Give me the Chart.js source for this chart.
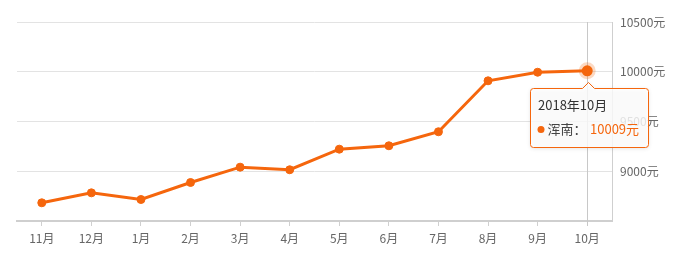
<!DOCTYPE html>
<html>
<head>
<meta charset="utf-8">
<script src="https://cdn.jsdelivr.net/npm/chart.js@4.4.1/dist/chart.umd.min.js"></script>
<style>
html,body{margin:0;padding:0;background:#fff;}
#wrap{width:689px;height:268px;}
</style>
</head>
<body>
<div id="wrap"><canvas id="c" width="689" height="268"></canvas></div>
<script>
const categories = ['11月','12月','1月','2月','3月','4月','5月','6月','7月','8月','9月','10月'];
const prices = [8683, 8783, 8716, 8887, 9041, 9015, 9222, 9256, 9397, 9909, 9995, 10009];
const yTickValues = [9000, 9500, 10000, 10500];
const yMin = 8500;
const yMax = 10500;
const seriesName = '浑南';
const unit = '元';
const tooltipTitle = '2018年10月';
const activeIndex = 11;

const ORANGE = '#f5660d';
const FONT = '"Noto Sans CJK SC", "Noto Sans", sans-serif';

const hoverPlugin = {
  id: 'hoverPlugin',
  beforeDatasetsDraw(chart) {
    const pt = chart.getDatasetMeta(0).data[activeIndex];
    const ctx = chart.ctx, a = chart.chartArea;
    ctx.save();
    ctx.strokeStyle = '#c8c8c8';
    ctx.lineWidth = 1;
    const x = Math.round(pt.x) + 0.5;
    ctx.beginPath();
    ctx.moveTo(x, a.top);
    ctx.lineTo(x, a.bottom + 5);
    ctx.stroke();
    ctx.restore();
  },
  afterDraw(chart) {
    const pt = chart.getDatasetMeta(0).data[activeIndex];
    const ctx = chart.ctx;
    const w = 118, h = 59;
    const left = Math.round(pt.x - 57) + 0.5;
    const top = Math.round(pt.y + 17) + 0.5;
    const cx = Math.round(pt.x) + 1.5;
    const r = 3;
    ctx.save();
    ctx.shadowColor = 'rgba(0,0,0,0.15)';
    ctx.shadowBlur = 4;
    ctx.shadowOffsetY = 1;
    ctx.beginPath();
    ctx.moveTo(left + r, top);
    ctx.lineTo(cx - 6, top);
    ctx.lineTo(cx, top - 6);
    ctx.lineTo(cx + 6, top);
    ctx.lineTo(left + w - r, top);
    ctx.arcTo(left + w, top, left + w, top + r, r);
    ctx.lineTo(left + w, top + h - r);
    ctx.arcTo(left + w, top + h, left + w - r, top + h, r);
    ctx.lineTo(left + r, top + h);
    ctx.arcTo(left, top + h, left, top + h - r, r);
    ctx.lineTo(left, top + r);
    ctx.arcTo(left, top, left + r, top, r);
    ctx.closePath();
    ctx.fillStyle = 'rgba(255,255,255,0.82)';
    ctx.fill();
    ctx.shadowColor = 'transparent';
    ctx.strokeStyle = ORANGE;
    ctx.lineWidth = 1;
    ctx.stroke();

    ctx.textBaseline = 'middle';
    ctx.textAlign = 'left';
    ctx.font = '13px ' + FONT;
    ctx.fillStyle = '#333';
    ctx.fillText(tooltipTitle, left + 7.5, top + 17);

    ctx.beginPath();
    ctx.arc(left + 10.5, top + 41, 3.5, 0, Math.PI * 2);
    ctx.fillStyle = ORANGE;
    ctx.fill();

    const label = seriesName + '：';
    ctx.fillStyle = '#444';
    ctx.fillText(label, left + 17, top + 41);
    ctx.fillStyle = ORANGE;
    ctx.fillText(prices[activeIndex] + unit, left + 59.5, top + 41);
    ctx.restore();
  }
};

new Chart(document.getElementById('c'), {
  type: 'line',
  data: {
    labels: categories,
    datasets: [{
      label: seriesName,
      data: prices,
      borderColor: ORANGE,
      backgroundColor: ORANGE,
      borderWidth: 3,
      tension: 0,
      fill: false,
      pointBackgroundColor: ORANGE,
      pointRadius: ctx => ctx.dataIndex === activeIndex ? 5.5 : 4,
      pointBorderWidth: ctx => ctx.dataIndex === activeIndex ? 6 : 1,
      pointBorderColor: ctx => ctx.dataIndex === activeIndex ? 'rgba(245,102,13,0.25)' : ORANGE
    }]
  },
  options: {
    responsive: false,
    animation: false,
    events: [],
    layout: { padding: { left: 17, top: 22, right: 0, bottom: 0 } },
    plugins: { legend: { display: false }, tooltip: { enabled: false } },
    scales: {
      x: {
        offset: true,
        grid: { display: true, drawOnChartArea: false, drawTicks: true, tickLength: 5, color: '#d0d0d0' },
        border: { display: true, color: '#cfcfcf', width: 2 },
        ticks: { color: '#666', font: { size: 12, family: FONT }, padding: 5, maxRotation: 0, autoSkip: false },
        afterFit: s => { s.height = 47; }
      },
      y: {
        position: 'right',
        min: yMin,
        max: yMax,
        afterBuildTicks: s => { s.ticks = [yMin].concat(yTickValues).map(v => ({ value: v })); },
        grid: { color: '#e3e3e3', drawTicks: false },
        border: { display: true, color: '#cfcfcf' },
        ticks: {
          color: '#666',
          font: { size: 12, family: FONT },
          padding: 8,
          callback: v => v === yMin ? '' : v + unit
        },
        afterFit: s => { s.width = 77; }
      }
    }
  },
  plugins: [hoverPlugin]
});
</script>
</body>
</html>
